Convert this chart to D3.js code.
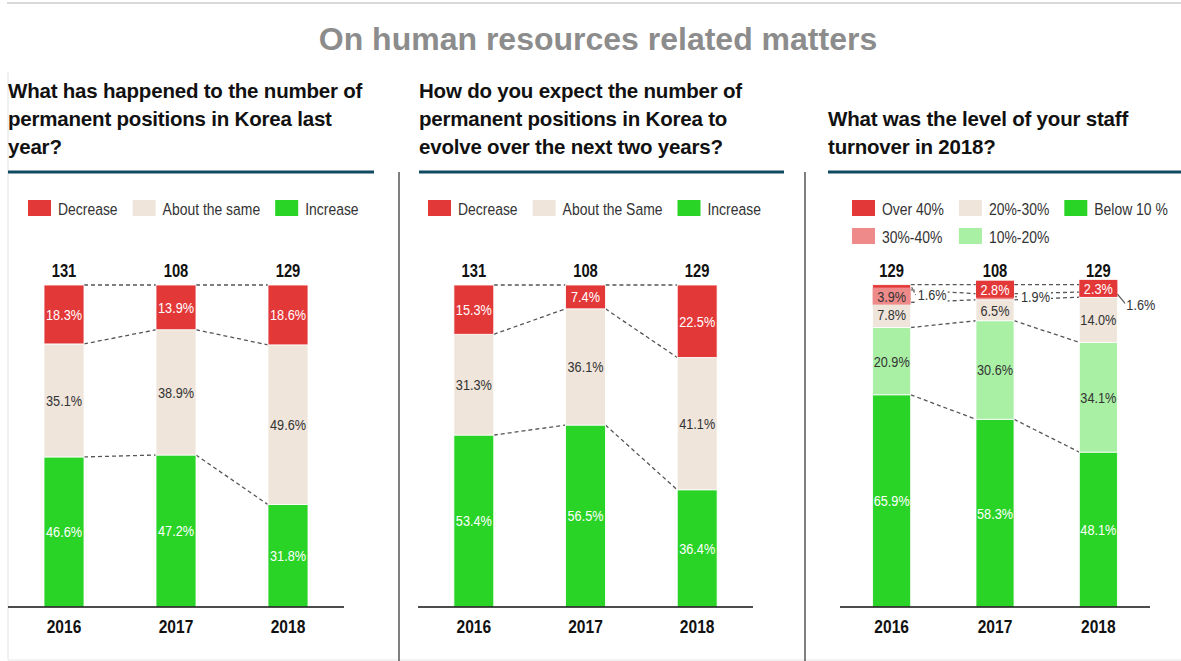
<!DOCTYPE html>
<meta charset="utf-8">
<script src="https://d3js.org/d3.v7.min.js"></script>
<style>
  body { margin: 0; background: #fff; }
  svg text { font-family: "Liberation Sans", Arial, sans-serif; }
  .head { font-weight: bold; }
</style>
<body>
<svg id="chart" width="1181" height="661"></svg>
<script>

// ---- data ----
var years = ["2016", "2017", "2018"]

var changeKeys = ["Decrease", "About the same", "Increase"]
var expectKeys = ["Decrease", "About the Same", "Increase"]
var turnoverKeys = ["Over 40%", "30%-40%", "20%-30%", "10%-20%", "Below 10 %"]

var respondentsPast = [131, 108, 129]
var respondentsFuture = [131, 108, 129]
var respondentsTurnover = [129, 108, 129]

var pastDecrease = [18.3, 13.9, 18.6]
var pastSame = [35.1, 38.9, 49.6]
var pastIncrease = [46.6, 47.2, 31.8]

var futureDecrease = [15.3, 7.4, 22.5]
var futureSame = [31.3, 36.1, 41.1]
var futureIncrease = [53.4, 56.5, 36.4]

var over40 = [1.6, 2.8, 2.3]
var t30to40 = [3.9, 1.9, 1.6]
var t20to30 = [7.8, 6.5, 14.0]
var t10to20 = [20.9, 30.6, 34.1]
var below10 = [65.9, 58.3, 48.1]

var subtitles = [
  ["What has happened to the number of", "permanent positions in Korea last", "year?"],
  ["How do you expect the number of", "permanent positions in Korea to", "evolve over the next two years?"],
  ["What was the level of your staff", "turnover in 2018?"]
]

var RED = "#e33838", BEIGE = "#efe5db", GREEN = "#29d426", LGREEN = "#a9f0a5", PINK = "#ee8b8a"
var NARROW = 0.82   // no Arial Narrow here, so squeeze Liberation Sans

var svg = d3.select("#chart")

// place a condensed text at (x, y)
function narrow(t, x, y) {
  return t.attr("x", 0).attr("y", 0)
    .attr("transform", "translate(" + x + "," + y + ") scale(" + NARROW + ",1)")
}

// frame
svg.append("line").attr("x1", 7).attr("x2", 1181).attr("y1", 3).attr("y2", 3)
  .attr("stroke", "#d9d9d9").attr("stroke-width", 2)
svg.append("line").attr("x1", 8).attr("x2", 8).attr("y1", 72).attr("y2", 660)
  .attr("stroke", "#e2e2e2").attr("stroke-width", 1)
svg.append("line").attr("x1", 8).attr("x2", 1181).attr("y1", 660).attr("y2", 660)
  .attr("stroke", "#e6e6e6").attr("stroke-width", 1)

svg.append("text").attr("class", "head")
  .attr("x", 598).attr("y", 50).attr("text-anchor", "middle")
  .attr("font-size", 32).attr("fill", "#8c8c8c")
  .text("On human resources related matters")

// separators
;[399, 805].forEach(function (x) {
  svg.append("line").attr("x1", x).attr("x2", x).attr("y1", 172).attr("y2", 661)
    .attr("stroke", "#555").attr("stroke-width", 1.5)
})

var y = d3.scaleLinear().domain([0, 100]).range([607, 285])

function panel(opt) {
  var g = svg.append("g")

  // subtitle
  var lines = subtitles[opt.idx]
  var firstBase = lines.length === 3 ? 98 : 126
  lines.forEach(function (t, i) {
    g.append("text").attr("class", "head")
      .attr("x", opt.titleX).attr("y", firstBase + i * 28)
      .attr("font-size", 20.5).attr("fill", "#111").attr("letter-spacing", -0.2)
      .text(t)
  })
  g.append("line").attr("x1", opt.titleX).attr("x2", opt.ruleEnd)
    .attr("y1", 172).attr("y2", 172).attr("stroke", "#0f4a60").attr("stroke-width", 3)

  // legend: first row lays out sequentially, second row reuses its columns
  var cols = []
  var lx = opt.legendX
  opt.keys.forEach(function (k, i) {
    var row = opt.legendRows ? opt.legendRows[i] : 0
    var col = opt.legendCols ? opt.legendCols[i] : i
    var x0 = row === 0 ? lx : cols[col]
    if (row === 0) cols[col] = x0
    var ly = 200 + row * 28
    g.append("rect").attr("x", x0).attr("y", ly).attr("width", 23).attr("height", 16)
      .attr("fill", opt.colors[i])
    var t = narrow(g.append("text"), x0 + 30, ly + 15)
      .attr("font-size", 17).attr("fill", "#333").text(k)
    if (row === 0) lx = x0 + 30 + t.node().getComputedTextLength() * NARROW + 15
  })

  // data table, bottom key first for stacking
  var rows = years.map(function (yr, i) {
    var r = { year: yr }
    opt.keys.forEach(function (k, j) { r[k] = opt.series[j][i] })
    return r
  })
  var stack = d3.stack().keys(opt.keys.slice().reverse())(rows)

  var x = d3.scaleBand().domain(years).range([opt.axisX0, opt.axisX1])
    .paddingInner(opt.pad).paddingOuter(opt.pad / 2)
  var bw = x.bandwidth()

  // dashed connectors between each boundary
  var conn = g.append("g")
  stack.forEach(function (layer) {
    for (var i = 0; i < years.length - 1; i++) {
      conn.append("line")
        .attr("x1", x(years[i]) + bw).attr("y1", y(layer[i][1]))
        .attr("x2", x(years[i + 1])).attr("y2", y(layer[i + 1][1]))
        .attr("stroke", "#555").attr("stroke-width", 1.3).attr("stroke-dasharray", "4,3")
    }
  })

  // bars
  stack.forEach(function (layer) {
    var j = opt.keys.indexOf(layer.key)
    g.append("g").selectAll("rect").data(layer).enter().append("rect")
      .attr("x", function (d) { return x(d.data.year) })
      .attr("y", function (d) { return y(d[1]) })
      .attr("width", bw)
      .attr("height", function (d) { return y(d[0]) - y(d[1]) })
      .attr("fill", opt.colors[j])
      .attr("stroke", "#fff").attr("stroke-width", 0.8)
  })

  // segment labels
  stack.forEach(function (layer) {
    var j = opt.keys.indexOf(layer.key)
    layer.forEach(function (d, i) {
      var v = d.data[layer.key]
      var cx = x(d.data.year) + bw / 2
      var cy = (y(d[0]) + y(d[1])) / 2
      var lab = v.toFixed(1) + "%"
      if (v < 2) {
        // thin slice: label beside the bar on a white patch
        var right = x(d.data.year) + bw
        var last = i === years.length - 1
        var ty = last ? cy + 10 : Math.max(cy, 295)
        var tx = right + (last ? 9 : 7)
        if (last) {
          g.append("line").attr("x1", right).attr("y1", y(d[1]) + 2)
            .attr("x2", tx - 1).attr("y2", ty - 1).attr("stroke", "#555").attr("stroke-width", 1.2)
        } else {
          g.append("line").attr("x1", right + 1).attr("y1", cy)
            .attr("x2", tx - 2).attr("y2", ty).attr("stroke", "#555")
            .attr("stroke-width", 1.2).attr("stroke-dasharray", "2,2")
        }
        var t = narrow(g.append("text"), tx, ty).attr("dy", "0.35em")
          .attr("font-size", 15.5).attr("fill", "#333").text(lab)
        var w = t.node().getComputedTextLength() * NARROW
        g.insert("rect", function () { return t.node() })
          .attr("x", tx - 1).attr("y", ty - 8).attr("width", w + 2).attr("height", 16)
          .attr("fill", "#fff")
        return
      }
      if (v < 4) {
        g.append("rect").attr("x", x(d.data.year)).attr("y", cy - 8.5)
          .attr("width", bw).attr("height", 17).attr("fill", opt.colors[j])
      }
      narrow(g.append("text"), cx, cy).attr("dy", "0.35em")
        .attr("text-anchor", "middle").attr("font-size", 15.5)
        .attr("fill", opt.textColors[j]).text(lab)
    })
  })

  // axis baseline and year labels
  var axis = g.append("g").attr("transform", "translate(0,607)")
    .call(d3.axisBottom(x).tickSize(0).tickPadding(13))
  axis.select(".domain").attr("d", "M" + opt.axisX0 + ",0H" + opt.axisX1)
    .attr("stroke", "#111").attr("stroke-width", 1.5)
  axis.selectAll("text").attr("font-size", 19).attr("font-weight", "bold")
    .attr("fill", "#111").attr("font-family", null)
    .attr("transform", "scale(" + NARROW + ",1)")

  // respondents
  g.append("g").selectAll("text").data(years).enter().append("text")
    .attr("transform", function (d) { return "translate(" + (x(d) + bw / 2) + ",277) scale(" + NARROW + ",1)" })
    .attr("text-anchor", "middle")
    .attr("font-size", 18).attr("font-weight", "bold").attr("fill", "#111")
    .text(function (d, i) { return opt.counts[i] })
}

panel({
  idx: 0, titleX: 8, ruleEnd: 374, legendX: 28,
  keys: changeKeys, colors: [RED, BEIGE, GREEN], textColors: ["#fff", "#333", "#fff"],
  series: [pastDecrease, pastSame, pastIncrease], counts: respondentsPast,
  axisX0: 8, axisX1: 344, pad: 0.643
})

panel({
  idx: 1, titleX: 419, ruleEnd: 784, legendX: 428,
  keys: expectKeys, colors: [RED, BEIGE, GREEN], textColors: ["#fff", "#333", "#fff"],
  series: [futureDecrease, futureSame, futureIncrease], counts: respondentsFuture,
  axisX0: 418, axisX1: 753, pad: 0.643
})

panel({
  idx: 2, titleX: 828, ruleEnd: 1181, legendX: 852,
  keys: turnoverKeys, colors: [RED, PINK, BEIGE, LGREEN, GREEN],
  textColors: ["#fff", "#333", "#333", "#333", "#fff"],
  legendRows: [0, 1, 0, 1, 0], legendCols: [0, 0, 1, 1, 2],
  series: [over40, t30to40, t20to30, t10to20, below10], counts: respondentsTurnover,
  axisX0: 840, axisX1: 1150, pad: 0.632
})

</script>
</body>
